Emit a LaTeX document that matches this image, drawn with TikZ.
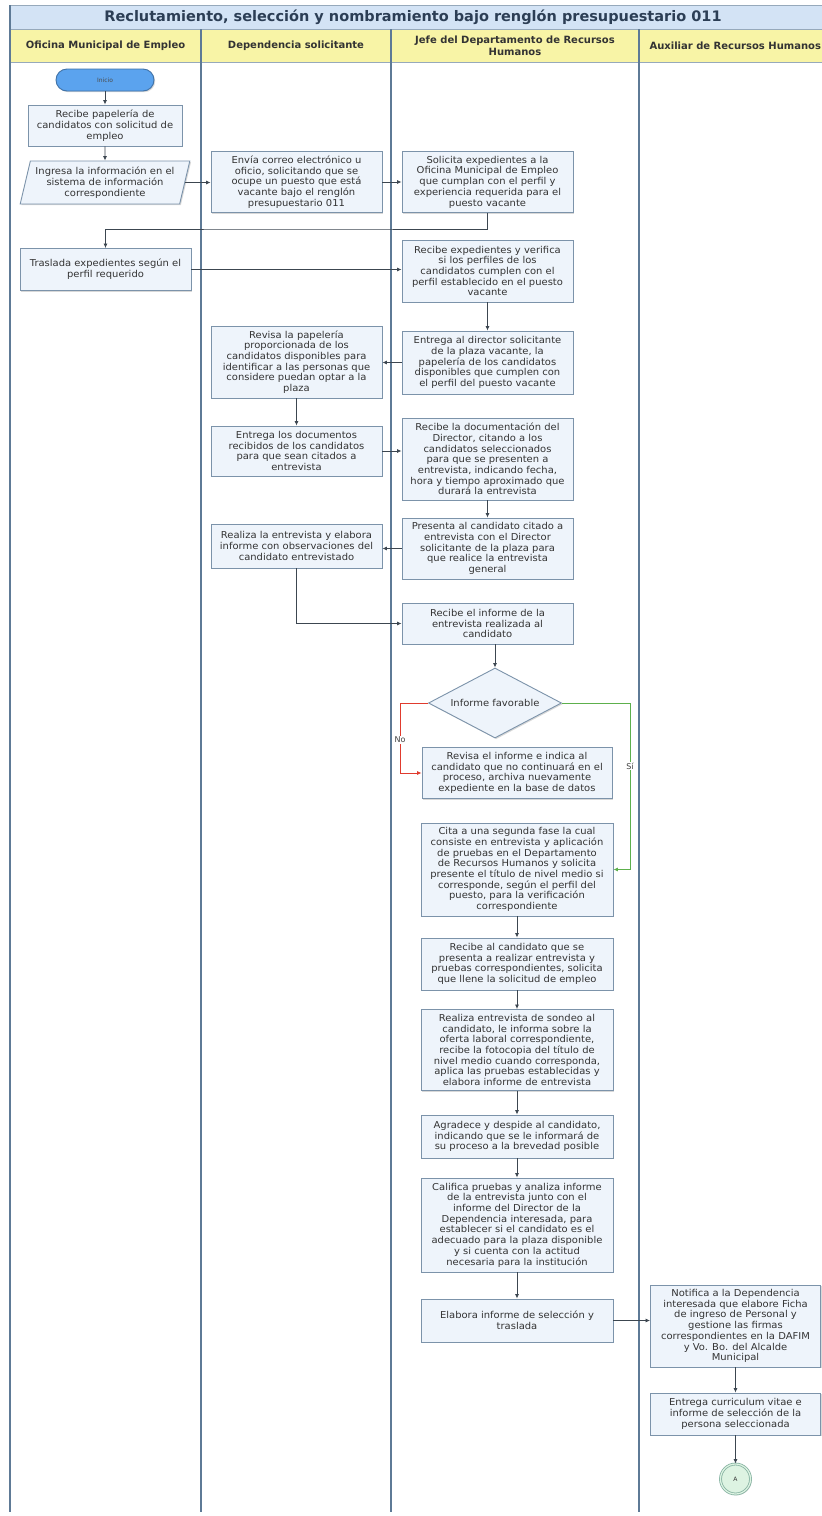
\documentclass[tikz,border=0pt]{standalone}
\usepackage{fontspec}
\setmainfont{DejaVu Sans}
\newfontfamily\boxfont[FakeStretch=1.05]{DejaVu Sans}
\usetikzlibrary{arrows.meta,shapes.geometric,shadows,calc}
\definecolor{laneline}{HTML}{5E7A96}
\definecolor{boxfill}{HTML}{EEF4FB}
\definecolor{boxline}{HTML}{7C93AA}
\definecolor{titlefill}{HTML}{D3E3F5}
\definecolor{headfill}{HTML}{F8F4A6}
\definecolor{arrowc}{HTML}{3C4650}
\definecolor{inicioc}{HTML}{5BA3EE}
\definecolor{noc}{HTML}{E03B2E}
\definecolor{sic}{HTML}{5DB04C}
\definecolor{titletext}{HTML}{2C3E55}
\definecolor{conf}{HTML}{DDF3E2}
\definecolor{conline}{HTML}{86B3A2}
\tikzset{
  sz/.style 2 args={minimum width=#1pt,minimum height=#2pt},
  proc/.style={draw=boxline, fill=boxfill, line width=0.9pt, align=center,
    inner sep=2pt, font=\boxfont\fontsize{9.5}{10.7}\selectfont, text=black!80,
    drop shadow={shadow xshift=1.2pt,shadow yshift=-1.2pt,fill=black!30,opacity=0.5}},
  headtext/.style={font=\bfseries\fontsize{10}{12}\selectfont, text=black!80, align=center},
  flow/.style={draw=arrowc, line width=0.8pt, -{Latex[length=4.5pt,width=4pt]}},
  lanestyle/.style={draw=laneline, line width=1.2pt},
  lbl/.style={font=\fontsize{8}{9}\selectfont, text=black!75, fill=white, inner sep=1pt}
}
\begin{document}
\begin{tikzpicture}[x=1pt,y=-1pt]
\useasboundingbox (0,0) rectangle (822,1516);
\fill[white] (0,0) rectangle (822,1516);
% title and header
\draw[draw=boxline!80, fill=titlefill, line width=0.9pt] (10,5) rectangle (840,29);
\node[font=\bfseries\fontsize{14.5}{16}\selectfont, text=titletext] (title) at (413,17) {Reclutamiento, selección y nombramiento bajo renglón presupuestario 011};
\draw[draw=boxline!80, fill=headfill, line width=0.9pt] (10,29) rectangle (840,62);
% lane lines
\draw[lanestyle] (10,5) -- (10,1512);
\draw[lanestyle] (201,29) -- (201,1512);
\draw[lanestyle] (391,29) -- (391,1512);
\draw[lanestyle] (639,29) -- (639,1512);
\node[headtext] (h1) at (105.5,46) {Oficina Municipal de Empleo};
\node[headtext] (h2) at (296,46) {Dependencia solicitante};
\node[headtext] (h3) at (515,46) {Jefe del Departamento de Recursos\\Humanos};
\node[headtext, anchor=west] (h4) at (646,46) {Auxiliar de Recursos Humanos};

% nodes
\node[proc, sz={98}{22}, fill=inicioc, draw=inicioc!70!black, rounded corners=11pt, font=\fontsize{6}{7}\selectfont, text=black!70] (inicio) at (105,80) {Inicio};
\node[proc, sz={154}{41}] (b1) at (105,125.5) {Recibe papelería de\\candidatos con solicitud de\\empleo};
\node[proc, trapezium, trapezium left angle=73, trapezium right angle=107, trapezium stretches=true, sz={170}{43}, inner sep=0pt] (p1) at (105,182.5) {Ingresa la información en el\\sistema de información\\correspondiente};
\node[proc, sz={171}{61}] (envia) at (296.5,182) {Envía correo electrónico u\\oficio, solicitando que se\\ocupe un puesto que está\\vacante bajo el renglón\\presupuestario 011};
\node[proc, sz={171}{61}] (solicita) at (487.5,182) {Solicita expedientes a la\\Oficina Municipal de Empleo\\que cumplan con el perfil y\\experiencia requerida para el\\puesto vacante};
\node[proc, sz={171}{42}] (traslada) at (105.5,269.5) {Traslada expedientes según el\\perfil requerido};
\node[proc, sz={171}{62}] (recibeexp) at (487.5,271) {Recibe expedientes y verifica\\si los perfiles de los\\candidatos cumplen con el\\perfil establecido en el puesto\\vacante};
\node[proc, sz={171}{63}] (entregadir) at (487.5,362.5) {Entrega al director solicitante\\de la plaza vacante, la\\papelería de los candidatos\\disponibles que cumplen con\\el perfil del puesto vacante};
\node[proc, sz={171}{72}] (revisapap) at (296.5,362) {Revisa la papelería\\proporcionada de los\\candidatos disponibles para\\identificar a las personas que\\considere puedan optar a la\\plaza};
\node[proc, sz={171}{50}] (entregadoc) at (296.5,451) {Entrega los documentos\\recibidos de los candidatos\\para que sean citados a\\entrevista};
\node[proc, sz={171}{82}] (recibedoc) at (487.5,459) {Recibe la documentación del\\Director, citando a los\\candidatos seleccionados\\para que se presenten a\\entrevista, indicando fecha,\\hora y tiempo aproximado que\\durará la entrevista};
\node[proc, sz={171}{61}] (presenta) at (487.5,548.5) {Presenta al candidato citado a\\entrevista con el Director\\solicitante de la plaza para\\que realice la entrevista\\general};
\node[proc, sz={171}{44}] (realiza1) at (296.5,546) {Realiza la entrevista y elabora\\informe con observaciones del\\candidato entrevistado};
\node[proc, sz={171}{41}] (recibeinf) at (487.5,623.5) {Recibe el informe de la\\entrevista realizada al\\candidato};
\node[proc, diamond, aspect=1.9, sz={133}{70}, inner sep=0pt] (dec) at (495,703) {Informe favorable};
\node[proc, sz={190}{51}] (revisainf) at (517,773) {Revisa el informe e indica al\\candidato que no continuará en el\\proceso, archiva nuevamente\\expediente en la base de datos};
\node[proc, sz={192}{93}] (cita) at (517,869.5) {Cita a una segunda fase la cual\\consiste en entrevista y aplicación\\de pruebas en el Departamento\\de Recursos Humanos y solicita\\presente el título de nivel medio si\\corresponde, según el perfil del\\puesto, para la verificación\\correspondiente};
\node[proc, sz={192}{52}] (recibecand) at (517,964) {Recibe al candidato que se\\presenta a realizar entrevista y\\pruebas correspondientes, solicita\\que llene la solicitud de empleo};
\node[proc, sz={192}{81}] (sondeo) at (517,1050) {Realiza entrevista de sondeo al\\candidato, le informa sobre la\\oferta laboral correspondiente,\\recibe la fotocopia del título de\\nivel medio cuando corresponda,\\aplica las pruebas establecidas y\\elabora informe de entrevista};
\node[proc, sz={192}{43}] (agradece) at (517,1136.5) {Agradece y despide al candidato,\\indicando que se le informará de\\su proceso a la brevedad posible};
\node[proc, sz={192}{94}] (califica) at (517,1225) {Califica pruebas y analiza informe\\de la entrevista junto con el\\informe del Director de la\\Dependencia interesada, para\\establecer si el candidato es el\\adecuado para la plaza disponible\\y si cuenta con la actitud\\necesaria para la institución};
\node[proc, sz={192}{43}] (elabora) at (517,1320.5) {Elabora informe de selección y\\traslada};
\node[proc, sz={170}{82}] (notifica) at (735.5,1326) {Notifica a la Dependencia\\interesada que elabore Ficha\\de ingreso de Personal y\\gestione las firmas\\correspondientes en la DAFIM\\y Vo. Bo. del Alcalde\\Municipal};
\node[proc, sz={170}{42}] (entregacv) at (735.5,1414) {Entrega curriculum vitae e\\informe de selección de la\\persona seleccionada};
\node[proc, circle, sz={30}{30}, inner sep=0pt, fill=conf, draw=conline, double=conf, double distance=1.2pt, line width=0.8pt, font=\fontsize{6}{7}\selectfont] (A) at (735.5,1479) {A};

% connectors
\coordinate (bend1) at (300,229);
\coordinate (nob) at (400,740);
\coordinate (sib) at (630,766);
\draw[flow] (inicio.south) -- (b1.north);
\draw[flow] (b1.south) -- (p1.north);
\draw[flow] (p1.east) -- (p1.east -| envia.west);
\draw[flow] (envia.east) -- (solicita.west);
\draw[flow] (solicita.south) |- (bend1) -| (traslada.north);
\draw[flow] (traslada.east) -- (traslada.east -| recibeexp.west);
\draw[flow] (recibeexp.south) -- (entregadir.north);
\draw[flow] (entregadir.west) -- (entregadir.west -| revisapap.east);
\draw[flow] (revisapap.south) -- (entregadoc.north);
\draw[flow] (entregadoc.east) -- (entregadoc.east -| recibedoc.west);
\draw[flow] (recibedoc.south) -- (presenta.north);
\draw[flow] (presenta.west) -- (presenta.west -| realiza1.east);
\draw[flow] (realiza1.south) |- (recibeinf.west);
\draw[flow] (recibeinf.south -| dec.north) -- (dec.north);
\draw[flow, draw=noc] (dec.west) -- (dec.west -| nob) |- (revisainf.west);
\draw[flow, draw=sic] (dec.east) -- (dec.east -| sib) |- (cita.east);
\node[lbl] (nolbl) at (nob) {No};
\node[lbl] (silbl) at (sib) {Sí};
\draw[flow] (cita.south) -- (recibecand.north);
\draw[flow] (recibecand.south) -- (sondeo.north);
\draw[flow] (sondeo.south) -- (agradece.north);
\draw[flow] (agradece.south) -- (califica.north);
\draw[flow] (califica.south) -- (elabora.north);
\draw[flow] (elabora.east) -- (elabora.east -| notifica.west);
\draw[flow] (notifica.south) -- (entregacv.north);
\draw[flow] (entregacv.south) -- (A.north);
\end{tikzpicture}
\end{document}
